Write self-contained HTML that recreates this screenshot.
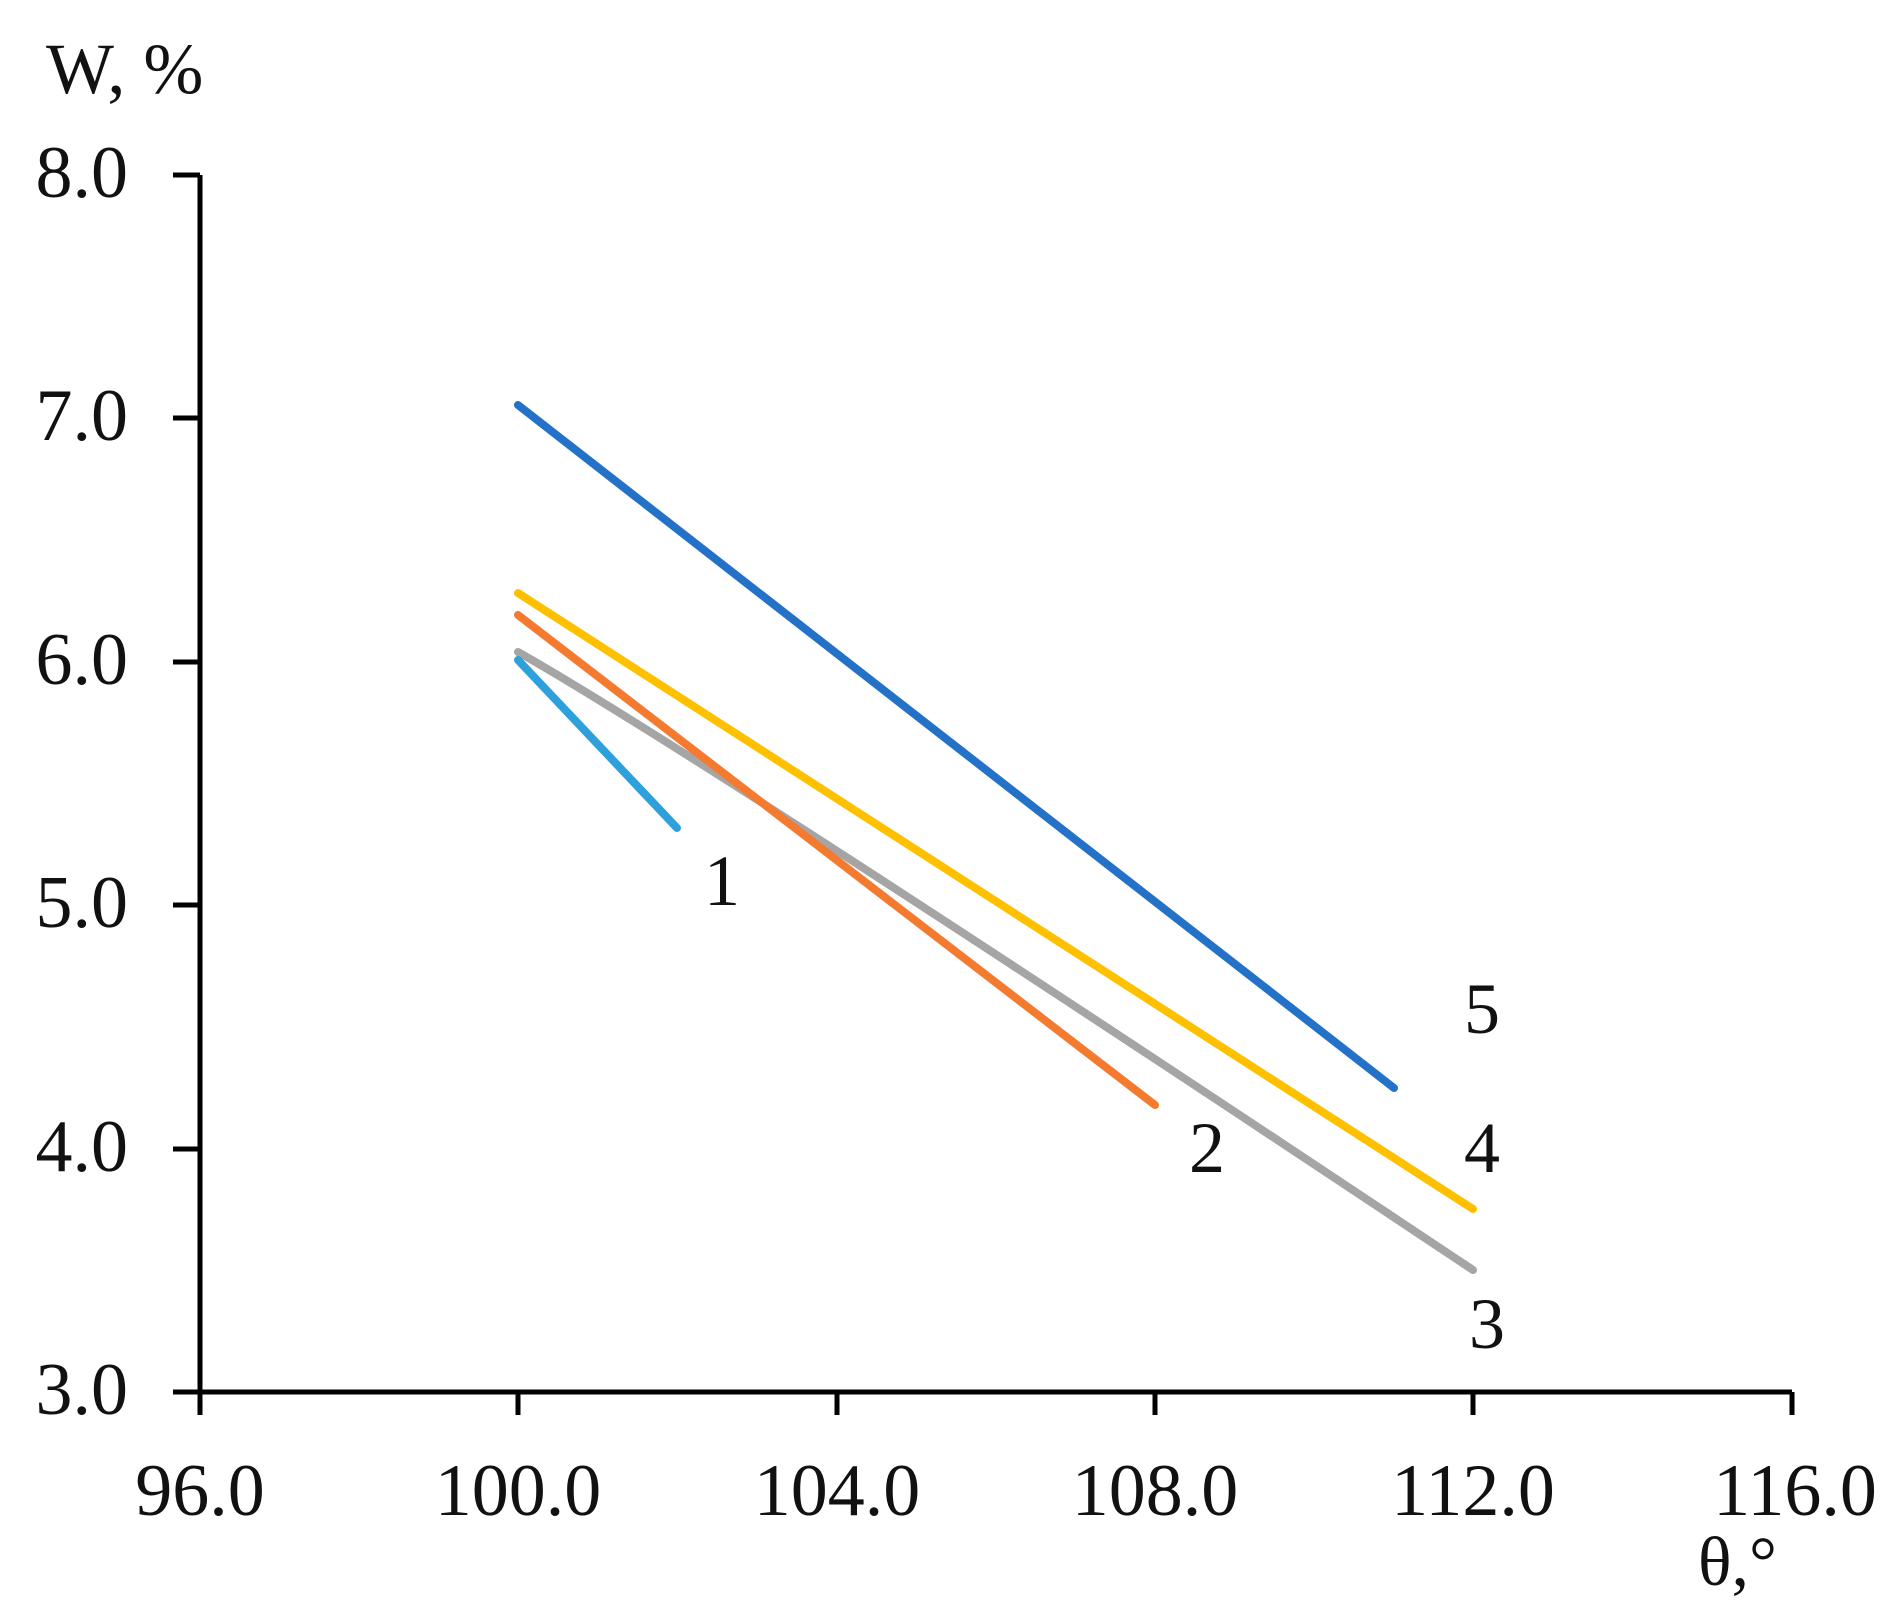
<!DOCTYPE html>
<html><head><style>
html,body{margin:0;padding:0;background:#fff;}
svg{display:block;}
text{font-family:"Liberation Serif",serif;fill:#111;}
</style></head><body>
<svg width="1895" height="1622" viewBox="0 0 1895 1622" xmlns="http://www.w3.org/2000/svg">
<g stroke="#000" stroke-width="5" fill="none">
<line x1="200" y1="175" x2="200" y2="1415"/>
<line x1="173" y1="1392" x2="1792" y2="1392"/>
<line x1="173" y1="175" x2="200" y2="175"/>
<line x1="173" y1="418" x2="200" y2="418"/>
<line x1="173" y1="662" x2="200" y2="662"/>
<line x1="173" y1="905" x2="200" y2="905"/>
<line x1="173" y1="1149" x2="200" y2="1149"/>
<line x1="518" y1="1392" x2="518" y2="1415"/>
<line x1="837" y1="1392" x2="837" y2="1415"/>
<line x1="1155" y1="1392" x2="1155" y2="1415"/>
<line x1="1473" y1="1392" x2="1473" y2="1415"/>
<line x1="1792" y1="1392" x2="1792" y2="1415"/>
</g>
<g font-size="74" text-anchor="end">
<text x="128" y="197">8.0</text>
<text x="128" y="440">7.0</text>
<text x="128" y="684">6.0</text>
<text x="128" y="927">5.0</text>
<text x="128" y="1171">4.0</text>
<text x="128" y="1414">3.0</text>
</g>
<g font-size="74" text-anchor="middle">
<text x="200" y="1515">96.0</text>
<text x="518" y="1515">100.0</text>
<text x="837" y="1515">104.0</text>
<text x="1155" y="1515">108.0</text>
<text x="1473" y="1515">112.0</text>
<text x="1795" y="1515">116.0</text>
</g>
<text x="46" y="93" font-size="72">W, %</text>
<text x="1698" y="1585" font-size="70">θ,°</text>
<g stroke-width="8" stroke-linecap="round" fill="none">
<line x1="518" y1="405" x2="1394" y2="1088" stroke="#2472c8"/>
<line x1="518" y1="593" x2="1473" y2="1209" stroke="#ffc000"/>
<path d="M518 652 Q700 755 1473 1270" stroke="#a5a5a5"/>
<line x1="518" y1="615" x2="1155" y2="1105" stroke="#f47a30"/>
<line x1="518" y1="660" x2="677" y2="828" stroke="#2ea0dc"/>
</g>
<g font-size="72" text-anchor="middle">
<text x="722" y="905">1</text>
<text x="1207" y="1172">2</text>
<text x="1487" y="1348">3</text>
<text x="1482" y="1172">4</text>
<text x="1482" y="1033">5</text>
</g>
</svg>
</body></html>
